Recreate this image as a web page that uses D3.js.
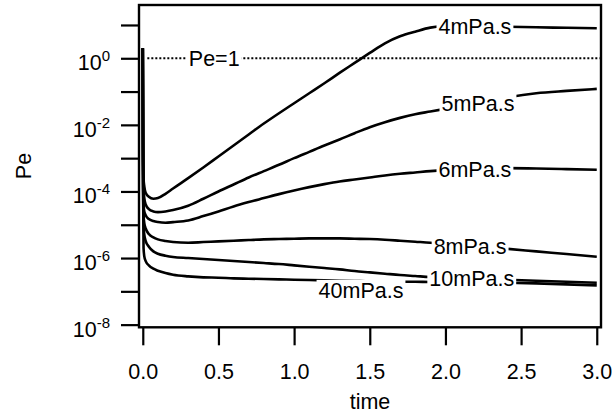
<!DOCTYPE html>
<html>
<head>
<meta charset="utf-8">
<script src="https://cdn.jsdelivr.net/npm/d3@7"></script>
<style>
  body { margin: 0; background: #fff; }
  svg { display: block; }
  text { font-family: "Liberation Sans", Arial, Helvetica, sans-serif; fill: #000; }
</style>
</head>
<body>
<svg id="chart" width="615" height="419"></svg>
<script>
// Sample times shared by every viscosity curve
const time = [0, 0.002, 0.005, 0.01, 0.02, 0.04, 0.07, 0.1, 0.15, 0.2, 0.3, 0.4, 0.5,
  0.6, 0.7, 0.8, 0.9, 1.0, 1.1, 1.2, 1.3, 1.4, 1.5, 1.6, 1.7, 1.8, 1.9, 2.0,
  2.2, 2.4, 2.6, 2.8, 3.0];

// log10(Pe) for each viscosity
const logPe4 = [0.3, -2.6, -3.6, -3.85, -4.05, -4.16, -4.22, -4.2, -4.07, -3.91, -3.6, -3.28, -2.95,
  -2.62, -2.29, -1.96, -1.65, -1.35, -1.05, -0.75, -0.44, -0.14, 0.16, 0.45, 0.66, 0.8, 0.92, 0.96,
  0.96, 0.95, 0.93, 0.915, 0.9];
const logPe5 = [0.3, -2.9, -3.9, -4.2, -4.4, -4.53, -4.6, -4.62, -4.6, -4.56, -4.43, -4.22, -4.0,
  -3.79, -3.58, -3.39, -3.2, -3.0, -2.81, -2.62, -2.44, -2.25, -2.07, -1.92, -1.79, -1.68, -1.6, -1.52,
  -1.36, -1.18, -1.05, -0.98, -0.92];
const logPe6 = [0.3, -3.2, -4.4, -4.6, -4.72, -4.83, -4.89, -4.92, -4.94, -4.92, -4.87, -4.74, -4.6,
  -4.45, -4.32, -4.2, -4.08, -3.97, -3.87, -3.78, -3.7, -3.64, -3.58, -3.52, -3.47, -3.43, -3.39, -3.36,
  -3.32, -3.3, -3.31, -3.33, -3.35];
const logPe8 = [0.3, -3.4, -4.7, -4.95, -5.12, -5.28, -5.38, -5.44, -5.49, -5.52, -5.54, -5.52, -5.5,
  -5.48, -5.46, -5.44, -5.43, -5.42, -5.41, -5.41, -5.41, -5.42, -5.43, -5.45, -5.48, -5.51, -5.54, -5.58,
  -5.65, -5.72, -5.8, -5.88, -5.96];
const logPe10 = [0.3, -3.6, -5.0, -5.3, -5.5, -5.66, -5.8, -5.87, -5.93, -5.97, -6.0, -6.03, -6.06,
  -6.09, -6.12, -6.15, -6.18, -6.22, -6.26, -6.3, -6.34, -6.39, -6.43, -6.47, -6.51, -6.54, -6.57, -6.59,
  -6.62, -6.65, -6.68, -6.71, -6.74];
const logPe40 = [0.3, -3.8, -5.7, -5.95, -6.1, -6.22, -6.32, -6.38, -6.45, -6.5, -6.55, -6.58, -6.59,
  -6.61, -6.62, -6.63, -6.64, -6.65, -6.66, -6.67, -6.68, -6.69, -6.7, -6.7, -6.71, -6.71, -6.72, -6.72,
  -6.73, -6.74, -6.76, -6.79, -6.82];

const seriesNames = ["4mPa.s", "5mPa.s", "6mPa.s", "8mPa.s", "10mPa.s", "40mPa.s"];
const seriesValues = [logPe4, logPe5, logPe6, logPe8, logPe10, logPe40];
// time at which each curve carries its name
const labelTime = [2.195, 2.215, 2.195, 2.163, 2.174, 1.442];

// Pe = 1 reference line
const refTime = [0.03, 3.02];
const refPe = 1;
const refLabel = "Pe=1";
const refLabelTime = 0.472;

const xTicks = [0, 0.5, 1.0, 1.5, 2.0, 2.5, 3.0];
const yDecades = [-8, -7, -6, -5, -4, -3, -2, -1, 0, 1];
const yLabelDecades = [-8, -6, -4, -2, 0];

const svg = d3.select("#chart");
const FS = 21.5;

const x = d3.scaleLinear().domain([-0.025, 3.028]).range([139, 601]);
const y = d3.scaleLog().domain([Math.pow(10, -8.08), Math.pow(10, 1.6)]).range([327.3, 5]);

// value of a curve at a given time (linear in log Pe)
function logAt(vals, t) {
  const i = Math.max(1, Math.min(time.length - 1, d3.bisectLeft(time, t)));
  const t0 = time[i - 1], t1 = time[i];
  const f = (t - t0) / (t1 - t0);
  return vals[i - 1] + f * (vals[i] - vals[i - 1]);
}

// x axis
const xAxis = svg.append("g")
  .attr("transform", `translate(0,${y.range()[0]})`)
  .call(d3.axisBottom(x).tickValues(xTicks).tickSize(18).tickPadding(18)
    .tickFormat(d3.format(".1f")).tickSizeOuter(0));
xAxis.select(".domain").remove();
xAxis.selectAll("line").attr("stroke", "#000").attr("stroke-width", 2.2);
xAxis.selectAll("text").style("font-size", FS + "px")
  .style("font-family", '"Liberation Sans", Arial, sans-serif').attr("fill", "#000");

// y axis (log decades)
const yAxis = svg.append("g")
  .attr("transform", `translate(${x.range()[0]},0)`)
  .call(d3.axisLeft(y).tickValues(yDecades.map(d => Math.pow(10, d))).tickSize(18)
    .tickFormat("").tickSizeOuter(0));
yAxis.select(".domain").remove();
yAxis.selectAll("line").attr("stroke", "#000").attr("stroke-width", 2.2);

const yLab = svg.append("g");
yLabelDecades.forEach(d => {
  const ty = y(Math.pow(10, d));
  const t = yLab.append("text").attr("x", 110).attr("y", ty + 12)
    .attr("text-anchor", "end").style("font-size", FS + "px");
  t.append("tspan").text("10");
  t.append("tspan").attr("dy", -9).style("font-size", "15px").text(String(d));
});

// plot frame
svg.append("rect")
  .attr("x", x.range()[0]).attr("y", y.range()[1])
  .attr("width", x.range()[1] - x.range()[0])
  .attr("height", y.range()[0] - y.range()[1])
  .attr("fill", "none").attr("stroke", "#000").attr("stroke-width", 2.4);

// Pe = 1 dotted line
svg.append("line")
  .attr("x1", x(refTime[0])).attr("x2", x(refTime[1]))
  .attr("y1", y(refPe)).attr("y2", y(refPe))
  .attr("stroke", "#000").attr("stroke-width", 2).attr("stroke-dasharray", "2,2");

// curves
const line = d3.line()
  .x((d, i) => x(time[i]))
  .y(d => y(Math.pow(10, d)))
  .curve(d3.curveMonotoneX);

svg.append("g").selectAll("path").data(seriesValues).join("path")
  .attr("d", line)
  .attr("fill", "none").attr("stroke", "#000").attr("stroke-width", 2.6)
  .attr("stroke-linejoin", "round");

// labels on a white box that interrupts the line
function boxedLabel(txt, px, py, textDy) {
  const g = svg.append("g");
  const t = g.append("text").attr("x", px).attr("y", py + textDy)
    .attr("text-anchor", "middle").attr("dy", "0.36em")
    .style("font-size", FS + "px").text(txt);
  const b = t.node().getBBox();
  g.insert("rect", "text")
    .attr("x", b.x - 2).attr("y", b.y + 1)
    .attr("width", b.width + 4).attr("height", b.height - 1)
    .attr("fill", "#fff");
}

const labelOffset = { "40mPa.s": 9 };
seriesNames.forEach((name, k) => {
  const t = labelTime[k];
  boxedLabel(name, x(t), y(Math.pow(10, logAt(seriesValues[k], t))), labelOffset[name] || 0);
});
boxedLabel(refLabel, x(refLabelTime), y(refPe), 0);

// axis titles
svg.append("text").attr("x", 370).attr("y", 409).attr("text-anchor", "middle")
  .style("font-size", FS + "px").text("time");
svg.append("text").attr("transform", "translate(31,166) rotate(-90)")
  .attr("text-anchor", "middle").style("font-size", FS + "px").text("Pe");
</script>
</body>
</html>
